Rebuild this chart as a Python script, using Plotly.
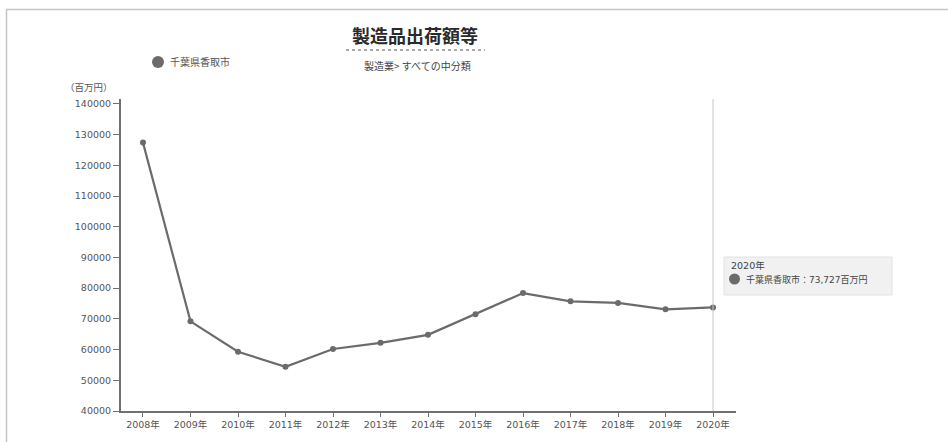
import plotly.graph_objects as go

# 製造品出荷額等（千葉県香取市, 製造業 すべての中分類, 百万円）
years = [2008, 2009, 2010, 2011, 2012, 2013, 2014, 2015, 2016, 2017, 2018, 2019, 2020]
values = [127400, 69200, 59300, 54400, 60200, 62200, 64800, 71500, 78400, 75700, 75200, 73100, 73727]
series_name = "千葉県香取市"
unit = "百万円"
year_labels = [f"{y}年" for y in years]
y_ticks = [40000, 50000, 60000, 70000, 80000, 90000, 100000, 110000, 120000, 130000, 140000]

W, H = 948, 442
L, R, T, B = 121, 212, 99, 31
PW, PH = W - L - R, H - T - B

FONT = "Noto Sans CJK JP, Noto Sans, sans-serif"
NUM_FONT = "DejaVu Sans, Noto Sans CJK JP, sans-serif"
LINE = "#6b6b6b"
AXIS = "#707070"
TEXT = "#555555"


def px(x):
    return (x - L) / PW


def py(y):
    return (H - B - y) / PH


fig = go.Figure()
fig.add_trace(go.Scatter(
    x=years, y=values, mode="lines+markers", name=series_name,
    line=dict(color=LINE, width=2.2),
    marker=dict(color=LINE, size=6),
    hoverinfo="skip", showlegend=False,
))

hover_i = len(years) - 1
hover_year = years[hover_i]
hover_val = values[hover_i]

shapes = [
    # frame lines
    dict(type="line", xref="paper", yref="paper", x0=px(6), x1=px(W + 5), y0=py(9.5), y1=py(9.5),
         line=dict(color="#c4c4c4", width=1.5)),
    dict(type="line", xref="paper", yref="paper", x0=px(6.5), x1=px(6.5), y0=py(9.5), y1=py(H + 5),
         line=dict(color="#c4c4c4", width=1.5)),
    # title underline (dotted)
    dict(type="line", xref="paper", yref="paper", x0=px(346), x1=px(485), y0=py(50), y1=py(50),
         line=dict(color="#555555", width=1, dash="dot")),
    # hover guide line
    dict(type="line", xref="x", yref="paper", x0=hover_year, x1=hover_year, y0=0, y1=1,
         line=dict(color="#c8c8c8", width=1)),
    # tooltip box
    dict(type="rect", xref="paper", yref="paper", x0=px(724), x1=px(892), y0=py(257), y1=py(295),
         line=dict(color="#e2e2e2", width=1), fillcolor="#f1f1f1"),
    # tooltip dot
    dict(type="circle", xref="paper", yref="paper", x0=px(729), x1=px(740), y0=py(273.5), y1=py(284.5),
         line=dict(color=LINE, width=0), fillcolor=LINE),
    # legend dot
    dict(type="circle", xref="paper", yref="paper", x0=px(152), x1=px(164), y0=py(56), y1=py(68),
         line=dict(color=LINE, width=0), fillcolor=LINE),
]

annotations = [
    dict(text="<b>製造品出荷額等</b>", x=px(415), y=py(35), xref="paper", yref="paper",
         showarrow=False, font=dict(size=18, color="#2a2a2a", family=FONT), xanchor="center", yanchor="middle"),
    dict(text="製造業&gt; すべての中分類", x=px(417), y=py(66), xref="paper", yref="paper",
         showarrow=False, font=dict(size=10, color="#444444", family=FONT), xanchor="center", yanchor="middle"),
    dict(text=series_name, x=px(168), y=py(62), xref="paper", yref="paper",
         showarrow=False, font=dict(size=10, color=TEXT, family=FONT), xanchor="left", yanchor="middle"),
    dict(text=f"（{unit}）", x=px(89), y=py(87), xref="paper", yref="paper",
         showarrow=False, font=dict(size=9.5, color=TEXT, family=FONT), xanchor="center", yanchor="middle"),
    dict(text=f"{hover_year}年", x=px(729), y=py(265), xref="paper", yref="paper",
         showarrow=False, font=dict(size=9.5, color="#444444", family=NUM_FONT), xanchor="left", yanchor="middle"),
    dict(text=f"{series_name}：{hover_val:,}{unit}", x=px(744), y=py(279.5), xref="paper", yref="paper",
         showarrow=False, font=dict(size=9, color="#444444", family=NUM_FONT), xanchor="left", yanchor="middle"),
]

fig.update_layout(
    width=W, height=H,
    margin=dict(l=L, r=R, t=T, b=B, pad=0),
    paper_bgcolor="white", plot_bgcolor="white",
    font=dict(family=FONT, color=TEXT, size=10),
    shapes=shapes, annotations=annotations,
    showlegend=False,
    xaxis=dict(
        range=[2007.537, 2020.484], tickmode="array", tickvals=years, ticktext=year_labels,
        showgrid=False, zeroline=False, showline=True, linecolor=AXIS, linewidth=1.5,
        ticks="outside", ticklen=4, tickcolor=AXIS, tickwidth=1,
        tickfont=dict(size=9.5, color=TEXT, family=NUM_FONT),
    ),
    yaxis=dict(
        range=[40000, 141600], tickmode="array", tickvals=y_ticks, ticktext=[str(v) for v in y_ticks],
        showgrid=False, zeroline=False, showline=True, linecolor=AXIS, linewidth=2,
        ticks="outside", ticklen=6, tickcolor=AXIS, tickwidth=1,
        tickfont=dict(size=9.5, color=TEXT, family=NUM_FONT),
    ),
)

fig.write_html("out.html")
